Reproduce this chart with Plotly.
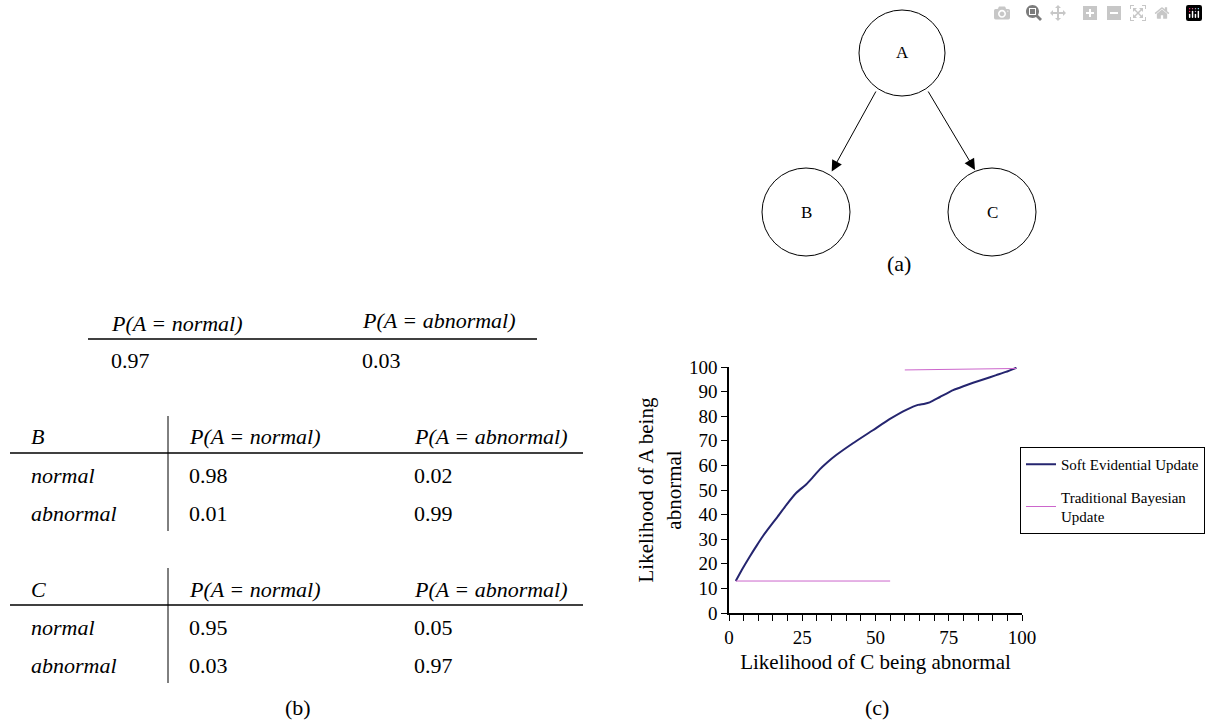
import plotly.graph_objects as go

W, H = 1208, 721
FONT = "Liberation Serif"

# ---- data ----
soft_x = [2.3, 4.5, 7.0, 9.5, 11.6, 13.9, 16.5, 19.6, 23.0, 26.4, 28.5, 30.9, 33.5, 36.6,
          42.3, 49.1, 54.8, 60.5, 64.5, 66.5, 68.5, 72.0, 76.5, 80.0, 83.3, 87.0, 91.2, 94.5, 98.1]
soft_y = [13.0, 17.8, 22.8, 27.5, 31.3, 35.0, 39.0, 44.0, 48.9, 52.3, 55.0, 58.3, 61.2, 64.2,
          69.0, 74.3, 78.8, 82.6, 84.6, 85.0, 85.6, 87.8, 90.6, 92.2, 93.6, 95.0, 96.7, 98.0, 99.7]
trad_x = [2.3, 55.0, None, 60.0, 98.1]
trad_y = [13.0, 13.0, None, 98.8, 99.4]

x_ticks = [0, 25, 50, 75, 100]
y_ticks = list(range(0, 101, 10))

nodes = ["A", "B", "C"]
prior_cols = ["P(A = normal)", "P(A = abnormal)"]
prior_vals = ["0.97", "0.03"]
cpt_rows = ["normal", "abnormal"]
cpt_B = [["0.98", "0.02"], ["0.01", "0.99"]]
cpt_C = [["0.95", "0.05"], ["0.03", "0.97"]]


def px(x):
    return x / W


def py(y):
    return 1 - y / H


fig = go.Figure()
fig.add_trace(go.Scatter(x=soft_x, y=soft_y, mode="lines", name="Soft Evidential Update",
                         legendgroup="g1",
                         line=dict(color="#25256f", width=2, shape="spline", smoothing=0.5)))
fig.add_trace(go.Scatter(x=trad_x, y=trad_y, mode="lines", name="Traditional Bayesian<br>Update",
                         legendgroup="g2",
                         line=dict(color="#cc66cc", width=1), connectgaps=False))

shapes = []
annotations = []


def label(x, y, s, size):
    annotations.append(dict(x=px(x), y=py(y), xref="paper", yref="paper", text=s,
                            xanchor="center", yanchor="middle", showarrow=False,
                            font=dict(family=FONT, size=size, color="black")))


# ---- (a) network diagram ----
node_pos = {"A": (902, 53, 43), "B": (806, 212, 44), "C": (992, 212, 44)}
for n in nodes:
    cx, cy, r = node_pos[n]
    shapes.append(dict(type="circle", xref="paper", yref="paper",
                       x0=px(cx - r), x1=px(cx + r), y0=py(cy + r), y1=py(cy - r),
                       line=dict(color="black", width=1), fillcolor="rgba(0,0,0,0)"))
    label(cx, cy, n, 17)
# arrows A->B, A->C
for (tx, ty, sx, sy) in [(831.7, 171.5, 876.7, 90), (975, 170, 927.3, 90)]:
    annotations.append(dict(x=px(tx), y=py(ty), xref="paper", yref="paper",
                            ax=sx - tx, ay=sy - ty, text="", showarrow=True,
                            arrowhead=2, arrowsize=2.2, arrowwidth=1, arrowcolor="black"))
label(899, 263, "(a)", 22)


def txt(x, y, s, italic=False, size=22):
    t = f"<i>{s}</i>" if italic else s
    annotations.append(dict(x=px(x - 3), y=py(y), xref="paper", yref="paper", text=t,
                            xanchor="left", yanchor="middle", showarrow=False,
                            font=dict(family=FONT, size=size, color="black")))


def hline(x0, x1, y):
    shapes.append(dict(type="line", xref="paper", yref="paper", x0=px(x0), x1=px(x1),
                       y0=py(y), y1=py(y), line=dict(color="black", width=1.3)))


def vline(x, y0, y1):
    shapes.append(dict(type="line", xref="paper", yref="paper", x0=px(x), x1=px(x),
                       y0=py(y0), y1=py(y1), line=dict(color="black", width=1)))


# ---- (b) tables ----
txt(112, 323, prior_cols[0], italic=True)
txt(363, 320, prior_cols[1], italic=True)
hline(88, 537, 339)
txt(112, 360, prior_vals[0])
txt(363, 360, prior_vals[1])

for name, cpt, top in [("B", cpt_B, 416), ("C", cpt_C, 568)]:
    vline(168, top, top + 115)
    txt(32, top + 21, name, italic=True)
    txt(190, top + 21, prior_cols[0], italic=True)
    txt(415, top + 21, prior_cols[1], italic=True)
    hline(10, 583, top + 37)
    for i, rlab in enumerate(cpt_rows):
        yy = top + 59 + i * 38
        txt(32, yy, rlab, italic=True)
        txt(190, yy, cpt[i][0])
        txt(415, yy, cpt[i][1])

label(298, 707, "(b)", 22)
label(877, 707, "(c)", 22)

fig.update_layout(
    width=W, height=H, autosize=False,
    margin=dict(l=0, r=0, t=0, b=0, autoexpand=False),
    paper_bgcolor="white", plot_bgcolor="white",
    font=dict(family=FONT, color="black"),
    shapes=shapes, annotations=annotations,
    showlegend=True,
    legend=dict(x=px(1205), y=py(447), xanchor="right", yanchor="top",
                bgcolor="white", bordercolor="black", borderwidth=1,
                font=dict(family=FONT, size=15, color="black"), itemwidth=30,
                tracegroupgap=10),
    xaxis=dict(domain=[px(729), px(1022)], range=[0, 100], tickvals=x_ticks,
               ticks="outside", ticklen=6, tickcolor="black", showline=True,
               linecolor="black", linewidth=1.5, showgrid=False, zeroline=False,
               automargin=False,
               minor=dict(tick0=0, dtick=5, ticks="outside", ticklen=6, tickcolor="black"),
               tickfont=dict(family=FONT, size=19, color="black"),
               title=dict(text="Likelihood of C being abnormal",
                          font=dict(family=FONT, size=21, color="black"), standoff=8)),
    yaxis=dict(domain=[py(613), py(367)], range=[0, 100], tickvals=y_ticks,
               ticks="outside", ticklen=6, tickcolor="black", showline=True,
               linecolor="black", linewidth=1.5, showgrid=False, zeroline=False,
               automargin=False,
               tickfont=dict(family=FONT, size=19, color="black"),
               title=dict(text="Likelihood of A being<br>abnormal",
                          font=dict(family=FONT, size=21, color="black"), standoff=2)),
)

fig.write_html("out.html", post_script="document.body.style.margin='0';")
